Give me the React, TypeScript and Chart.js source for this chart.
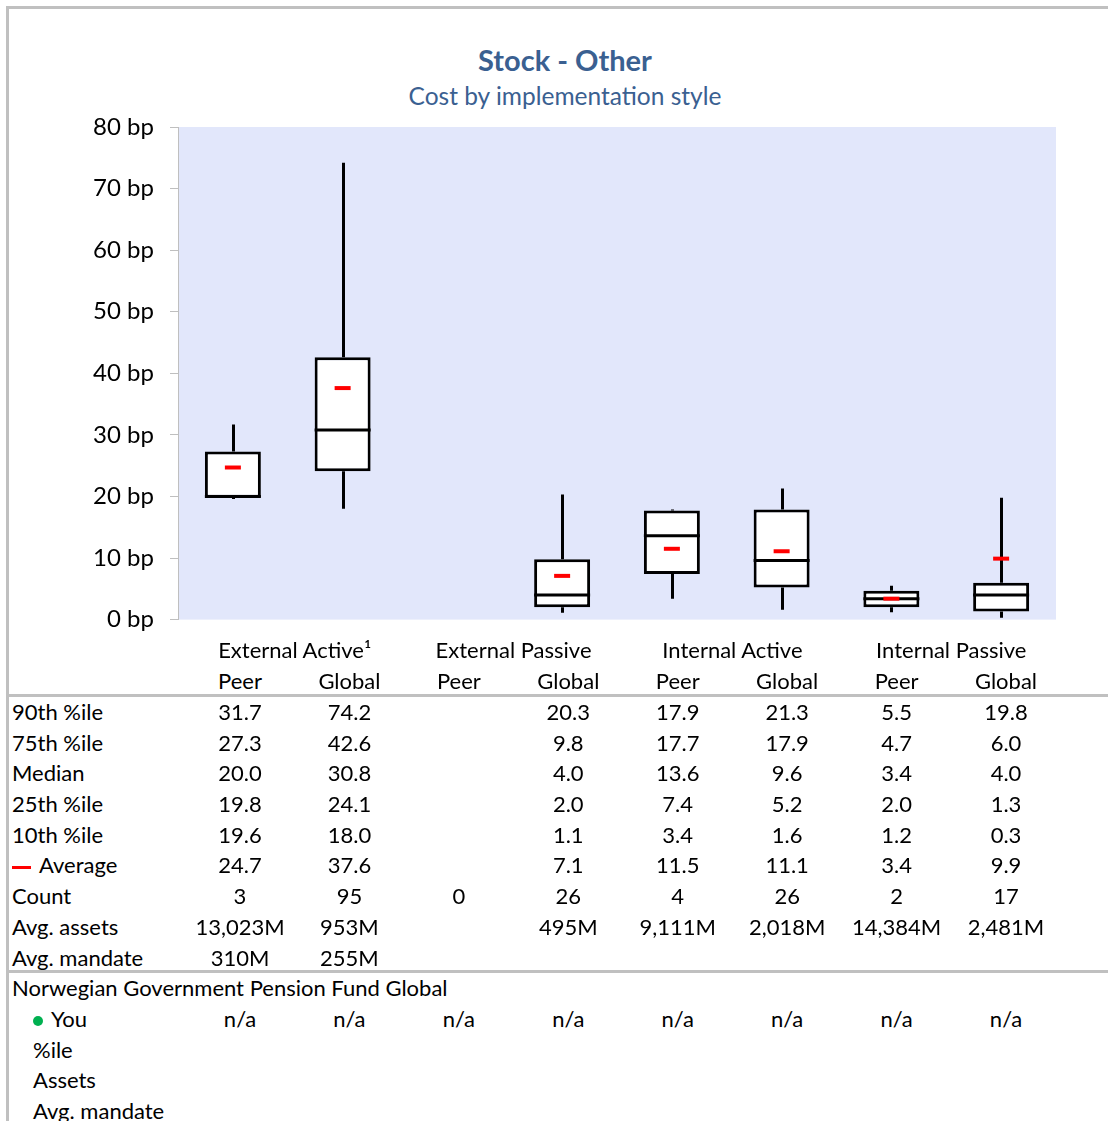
import React, { useEffect, useRef } from "react";
import { Chart, registerables } from "chart.js";

Chart.register(...registerables);

const categories = ["Peer", "Global", "Peer", "Global", "Peer", "Global", "Peer", "Global"];
const groups = ["External Active¹", "External Passive", "Internal Active", "Internal Passive"];
const p90 = [31.7, 74.2, null, 20.3, 17.9, 21.3, 5.5, 19.8];
const p75 = [27.3, 42.6, null, 9.8, 17.7, 17.9, 4.7, 6.0];
const median = [20.0, 30.8, null, 4.0, 13.6, 9.6, 3.4, 4.0];
const p25 = [19.8, 24.1, null, 2.0, 7.4, 5.2, 2.0, 1.3];
const p10 = [19.6, 18.0, null, 1.1, 3.4, 1.6, 1.2, 0.3];
const average = [24.7, 37.6, null, 7.1, 11.5, 11.1, 3.4, 9.9];
const counts = [3, 95, 0, 26, 4, 26, 2, 17];
const avgAssets = ["13,023M", "953M", "", "495M", "9,111M", "2,018M", "14,384M", "2,481M"];
const avgMandate = ["310M", "255M", "", "", "", "", "", ""];
const youValues = ["n/a", "n/a", "n/a", "n/a", "n/a", "n/a", "n/a", "n/a"];
const yTicks = [0, 10, 20, 30, 40, 50, 60, 70, 80];

const FONT = "Lato, 'Open Sans', sans-serif";
const TITLE_COLOR = "#3A6091";

const fmt = (v: number | null) => (v === null ? "" : v.toFixed(1));

const boxPlugin = {
  id: "boxExtras",
  beforeDatasetsDraw(chart: any) {
    const ctx = chart.ctx;
    const x = chart.scales.x;
    const y = chart.scales.y;
    ctx.save();
    ctx.strokeStyle = "#000";
    ctx.lineWidth = 3;
    categories.forEach((_, i) => {
      if (p90[i] === null) return;
      const cx = Math.round(x.getPixelForValue(i)) + 0.5;
      ctx.beginPath();
      ctx.moveTo(cx, y.getPixelForValue(p90[i] as number));
      ctx.lineTo(cx, y.getPixelForValue(p75[i] as number));
      ctx.moveTo(cx, y.getPixelForValue(p25[i] as number));
      ctx.lineTo(cx, y.getPixelForValue(p10[i] as number));
      ctx.stroke();
    });
    ctx.restore();
  },
  afterDatasetsDraw(chart: any) {
    const ctx = chart.ctx;
    const x = chart.scales.x;
    const y = chart.scales.y;
    const meta = chart.getDatasetMeta(0);
    ctx.save();
    categories.forEach((_, i) => {
      if (median[i] === null) return;
      const el = meta.data[i] as any;
      const w = el.width;
      const cx = x.getPixelForValue(i);
      const my = y.getPixelForValue(median[i] as number);
      ctx.strokeStyle = "#000";
      ctx.lineWidth = 3;
      ctx.beginPath();
      ctx.moveTo(cx - w / 2, my);
      ctx.lineTo(cx + w / 2, my);
      ctx.stroke();
      const ay = y.getPixelForValue(average[i] as number);
      ctx.strokeStyle = "#FF0000";
      ctx.lineWidth = 4;
      ctx.beginPath();
      ctx.moveTo(cx - 8, ay);
      ctx.lineTo(cx + 8, ay);
      ctx.stroke();
    });
    ctx.restore();
  },
};

const bgPlugin = {
  id: "plotBg",
  beforeDraw(chart: any) {
    const { ctx, chartArea } = chart;
    ctx.save();
    ctx.fillStyle = "#E2E7FB";
    ctx.fillRect(chartArea.left, chartArea.top, chartArea.right - chartArea.left, chartArea.bottom - chartArea.top);
    ctx.restore();
  },
};

const colCenter = (i: number) => 240 + i * 109.43;

const rowCenters = [712, 742.5, 773, 804, 835, 865, 896, 927, 958];
const lowerCenters = [988, 1019, 1050, 1080, 1111];

export default function App() {
  const ref = useRef<HTMLCanvasElement | null>(null);
  useEffect(() => {
    if (!ref.current) return;
    const chart = new Chart(ref.current, {
      type: "bar",
      data: {
        labels: categories,
        datasets: [
          {
            data: categories.map((_, i) => (p25[i] === null ? null : [p25[i], p75[i]])) as any,
            backgroundColor: "#FFFFFF",
            borderColor: "#000000",
            borderWidth: 3,
            borderSkipped: false,
            categoryPercentage: 1,
            barPercentage: 0.51,
          },
        ],
      },
      options: {
        animation: false,
        responsive: false,
        maintainAspectRatio: false,
        layout: { padding: { left: 0, right: 52, top: 127, bottom: 12 } },
        plugins: {
          legend: { display: false },
          tooltip: { enabled: false },
        },
        scales: {
          x: { display: false },
          y: {
            min: 0,
            max: 80,
            afterBuildTicks: (s: any) => {
              s.ticks = yTicks.map((v) => ({ value: v }));
            },
            afterFit: (s: any) => {
              s.width = 156;
            },
            ticks: {
              color: "#000",
              padding: 16,
              font: { family: FONT, size: 24 },
              callback: (v: any) => `${v} bp`,
            },
            grid: { drawOnChartArea: false, drawTicks: true, tickLength: 8, color: "#BFBFBF" },
            border: { color: "#BFBFBF", width: 1 },
          },
        },
      },
      plugins: [bgPlugin, boxPlugin],
    });
    return () => chart.destroy();
  }, []);

  const cell = (text: string, i: number, cy: number, key: string) => (
    <div
      key={key}
      style={{ position: "absolute", left: colCenter(i) - 60, width: 120, top: cy - 15, height: 30, lineHeight: "30px", textAlign: "center" }}
    >
      {text}
    </div>
  );

  const statRows: [React.ReactNode, string[]][] = [
    ["90th %ile", p90.map(fmt)],
    ["75th %ile", p75.map(fmt)],
    ["Median", median.map(fmt)],
    ["25th %ile", p25.map(fmt)],
    ["10th %ile", p10.map(fmt)],
    [
      <span>
        <span style={{ display: "inline-block", width: 19, height: 3, background: "#FF0000", verticalAlign: "middle", marginRight: 8 }} />
        Average
      </span>,
      average.map(fmt),
    ],
    ["Count", counts.map((c) => String(c))],
    ["Avg. assets", avgAssets],
    ["Avg. mandate", avgMandate],
  ];

  return (
    <div style={{ position: "absolute", left: 0, top: 0, width: 1108, height: 1121, overflow: "hidden", fontFamily: FONT, fontSize: 22, color: "#000", background: "#fff" }}>
      <div style={{ position: "absolute", left: 6, top: 6, width: 1102, height: 3, background: "#C0C0C0" }} />
      <div style={{ position: "absolute", left: 6, top: 6, width: 3, height: 1115, background: "#C0C0C0" }} />
      <div style={{ position: "absolute", left: 365, width: 400, top: 40, height: 40, lineHeight: "40px", textAlign: "center", fontSize: 29, fontWeight: "bold", color: TITLE_COLOR }}>
        Stock - Other
      </div>
      <div style={{ position: "absolute", left: 315, width: 500, top: 80, height: 32, lineHeight: "32px", textAlign: "center", fontSize: 24.5, color: TITLE_COLOR }}>
        Cost by implementation style
      </div>
      <canvas ref={ref} width={1086} height={650} style={{ position: "absolute", left: 22, top: 0, width: 1086, height: 650 }} />
      {groups.map((g, gi) => (
        <div
          key={g}
          style={{ position: "absolute", left: (colCenter(gi * 2) + colCenter(gi * 2 + 1)) / 2 - 110, width: 220, top: 650 - 15, height: 30, lineHeight: "30px", textAlign: "center" }}
        >
          {g}
        </div>
      ))}
      {categories.map((c, i) => cell(c, i, 681, "h" + i))}
      <div style={{ position: "absolute", left: 8, top: 694, width: 1100, height: 3, background: "#C0C0C0" }} />
      {statRows.map(([label, vals], r) => (
        <React.Fragment key={"r" + r}>
          <div style={{ position: "absolute", left: 12, top: rowCenters[r] - 15, height: 30, lineHeight: "30px", whiteSpace: "nowrap" }}>{label}</div>
          {vals.map((v, i) => cell(v, i, rowCenters[r], `c${r}-${i}`))}
        </React.Fragment>
      ))}
      <div style={{ position: "absolute", left: 8, top: 970, width: 1100, height: 3, background: "#C0C0C0" }} />
      <div style={{ position: "absolute", left: 12, top: lowerCenters[0] - 15, height: 30, lineHeight: "30px", whiteSpace: "nowrap" }}>
        Norwegian Government Pension Fund Global
      </div>
      <div style={{ position: "absolute", left: 33, top: lowerCenters[1] - 15, height: 30, lineHeight: "30px", whiteSpace: "nowrap" }}>
        <span style={{ display: "inline-block", width: 10, height: 10, borderRadius: 5, background: "#00B050", verticalAlign: "middle", marginRight: 8, marginLeft: 0 }} />
        You
      </div>
      {youValues.map((v, i) => cell(v, i, lowerCenters[1], "y" + i))}
      {["%ile", "Assets", "Avg. mandate"].map((t, k) => (
        <div key={t} style={{ position: "absolute", left: 33, top: lowerCenters[k + 2] - 15, height: 30, lineHeight: "30px", whiteSpace: "nowrap" }}>
          {t}
        </div>
      ))}
    </div>
  );
}
